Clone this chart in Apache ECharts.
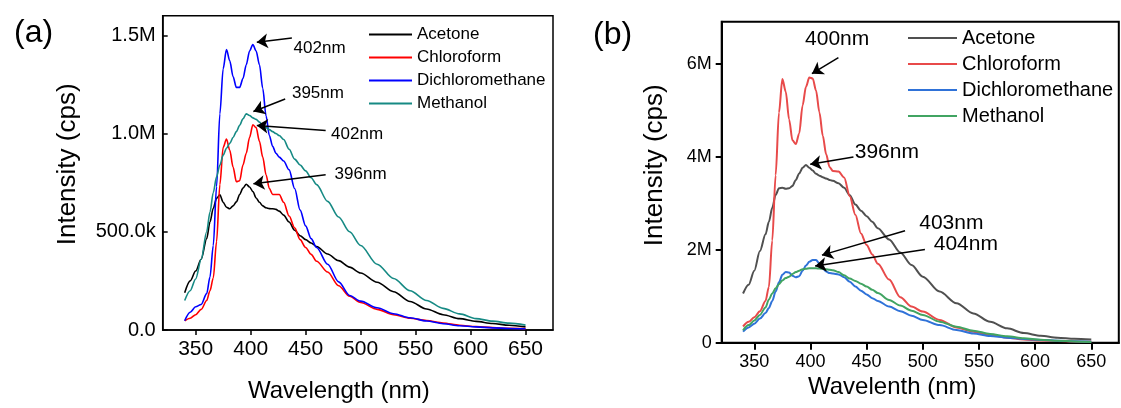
<!DOCTYPE html>
<html>
<head>
<meta charset="utf-8">
<title>Fluorescence spectra in four solvents</title>
<script src="https://cdn.jsdelivr.net/npm/echarts@6/dist/echarts.min.js"></script>
<style>
  html, body { margin: 0; padding: 0; background: #fff; }
  #chart { width: 1121px; height: 408px; }
</style>
</head>
<body>
<div id="chart"></div>
<script>
// ---- Panel (a): emission intensity, in millions of cps ----
const wlA = [340, 345, 350, 355, 360, 363, 366, 369, 372, 375, 378, 381, 384, 387, 390, 393, 396, 399,
  402, 405, 408, 411, 414, 417, 420, 423, 426, 430, 435, 440, 445, 450, 455, 460, 470, 480, 490, 500,
  515, 530, 545, 560, 575, 590, 605, 620, 635, 650];
const acetoneA = [0.19, 0.25, 0.30, 0.36, 0.465, 0.55, 0.62, 0.67, 0.688, 0.65, 0.625, 0.617, 0.632, 0.652, 0.69, 0.722, 0.742, 0.728,
  0.705, 0.672, 0.65, 0.632, 0.622, 0.618, 0.617, 0.614, 0.605, 0.585, 0.55, 0.508, 0.48, 0.46, 0.443, 0.425, 0.387, 0.353, 0.32, 0.29,
  0.243, 0.195, 0.145, 0.107, 0.078, 0.058, 0.044, 0.033, 0.024, 0.016];
const chloroformA = [0.047, 0.06, 0.078, 0.105, 0.15, 0.2, 0.265, 0.45, 0.74, 0.93, 0.972, 0.915, 0.83, 0.755, 0.76, 0.84, 0.9, 0.98,
  1.045, 1.03, 0.96, 0.88, 0.79, 0.72, 0.69, 0.69, 0.69, 0.65, 0.58, 0.52, 0.46, 0.42, 0.385, 0.35, 0.295, 0.225, 0.172, 0.14,
  0.105, 0.078, 0.06, 0.048, 0.036, 0.024, 0.017, 0.012, 0.009, 0.007];
const dichloromethaneA = [0.047, 0.09, 0.118, 0.13, 0.185, 0.27, 0.43, 0.73, 1.1, 1.33, 1.428, 1.37, 1.29, 1.235, 1.235, 1.28, 1.35, 1.42,
  1.453, 1.42, 1.35, 1.23, 1.09, 0.99, 0.935, 0.9, 0.88, 0.86, 0.815, 0.72, 0.61, 0.53, 0.465, 0.42, 0.335, 0.245, 0.176, 0.147,
  0.113, 0.083, 0.062, 0.046, 0.032, 0.022, 0.016, 0.011, 0.008, 0.006];
const methanolA = [0.15, 0.2, 0.26, 0.36, 0.5, 0.6, 0.7, 0.78, 0.84, 0.89, 0.925, 0.95, 0.98, 1.01, 1.042, 1.075, 1.1, 1.092,
  1.08, 1.072, 1.058, 1.042, 1.03, 1.02, 1.01, 1.0, 0.99, 0.97, 0.92, 0.87, 0.84, 0.81, 0.775, 0.74, 0.655, 0.575, 0.50, 0.43,
  0.335, 0.262, 0.2, 0.15, 0.11, 0.082, 0.058, 0.045, 0.035, 0.025];

// ---- Panel (b): emission intensity, in millions of cps ----
const wlB = [340, 345, 350, 355, 360, 363, 366, 369, 372, 375, 378, 381, 384, 387, 390, 393, 396, 399,
  402, 405, 408, 411, 414, 417, 420, 425, 430, 435, 440, 445, 450, 455, 460, 470, 480, 490, 500,
  515, 530, 545, 560, 575, 590, 605, 620, 635, 650];
const acetoneB = [1.06, 1.25, 1.55, 1.97, 2.33, 2.6, 2.9, 3.18, 3.32, 3.33, 3.31, 3.32, 3.37, 3.5, 3.64, 3.76, 3.82, 3.76,
  3.7, 3.63, 3.59, 3.56, 3.53, 3.5, 3.48, 3.43, 3.33, 3.17, 2.97, 2.84, 2.72, 2.6, 2.46, 2.22, 1.94, 1.67, 1.42,
  1.1, 0.85, 0.63, 0.45, 0.31, 0.21, 0.15, 0.11, 0.085, 0.07];
const chloroformB = [0.35, 0.45, 0.55, 0.68, 0.9, 1.2, 2.2, 3.6, 4.95, 5.67, 5.4, 4.8, 4.35, 4.27, 4.5, 5.1, 5.5, 5.7,
  5.68, 5.42, 4.95, 4.45, 4.05, 3.78, 3.69, 3.68, 3.55, 3.15, 2.75, 2.35, 2.1, 1.9, 1.7, 1.36, 0.98, 0.78, 0.67,
  0.49, 0.33, 0.24, 0.167, 0.11, 0.072, 0.05, 0.038, 0.03, 0.024];
const dichloromethaneB = [0.24, 0.33, 0.41, 0.52, 0.64, 0.75, 0.9, 1.1, 1.3, 1.46, 1.52, 1.51, 1.44, 1.41, 1.43, 1.55, 1.66, 1.74,
  1.78, 1.78, 1.7, 1.6, 1.53, 1.5, 1.49, 1.47, 1.41, 1.31, 1.21, 1.12, 1.04, 0.96, 0.9, 0.78, 0.68, 0.58, 0.49,
  0.38, 0.275, 0.2, 0.146, 0.11, 0.08, 0.06, 0.045, 0.032, 0.022];
const methanolB = [0.27, 0.38, 0.48, 0.6, 0.76, 0.93, 1.06, 1.17, 1.26, 1.34, 1.39, 1.42, 1.48, 1.52, 1.55, 1.58, 1.59, 1.6,
  1.6, 1.6, 1.595, 1.59, 1.58, 1.57, 1.56, 1.52, 1.45, 1.38, 1.33, 1.27, 1.21, 1.14, 1.07, 0.92, 0.8, 0.69, 0.6,
  0.455, 0.345, 0.26, 0.19, 0.14, 0.096, 0.068, 0.046, 0.03, 0.018];

// ---- Axis ticks ----
const xTicks = [350, 400, 450, 500, 550, 600, 650];
const yTicksA = [0, 0.5, 1.0, 1.5];
const yTicksB = [0, 2, 4, 6];

// ---- Legend names ----
const solvents = ['Acetone', 'Chloroform', 'Dichloromethane', 'Methanol'];

// ---- Peak annotations: arrow [tail nm, tail M, tip nm, tip M], label [nm, M, text] ----
const arrowsA = [[437.5, 1.487, 405.6, 1.465], [431.4, 1.176, 402.5, 1.112], [468.2, 1.016, 405.6, 1.041], [468.2, 0.790, 402.5, 0.744]];
const labelsA = [[462.7, 1.433, '402nm'], [461.2, 1.206, '395nm'], [496.8, 0.994, '402nm'], [500.0, 0.793, '396nm']];
const arrowsB = [[424.9, 6.127, 401.3, 5.783], [438.3, 3.994, 399.8, 3.837], [484.2, 2.406, 410.2, 1.884], [501.9, 2.006, 404.2, 1.648]];
const labelsB = [[423.8, 6.519, '400nm'], [468.0, 4.101, '396nm'], [525.4, 2.575, '403nm'], [538.3, 2.120, '404nm']];

const colorsA = ['#000000', '#ff0000', '#0000ff', '#168a84'];
const colorsB = ['#505050', '#e84a4a', '#2f72d8', '#41a462'];

const FONT = '"Liberation Sans", Arial, Helvetica, sans-serif';

const pairs = (xs, ys) => xs.map((x, i) => [x, ys[i]]);

function fmtA(v) {
  if (v === 0) return '0.0';
  if (v < 1) return (v * 1000).toFixed(1) + 'k';
  return v.toFixed(1) + 'M';
}
function fmtB(v) {
  return v === 0 ? '0' : v + 'M';
}

function spectrumSeries(name, xs, ys, color, width, idx) {
  return {
    name: name,
    type: 'line',
    xAxisIndex: idx,
    yAxisIndex: idx,
    data: pairs(xs, ys),
    showSymbol: false,
    smooth: 0.3,
    smoothMonotone: 'x',
    lineStyle: { color: color, width: width },
    itemStyle: { color: color },
    silent: true,
    animation: false
  };
}

function annotationSeries(idx, arrows, labels, fontSize) {
  return [{
    type: 'line',
    xAxisIndex: idx,
    yAxisIndex: idx,
    data: [],
    silent: true,
    animation: false,
    markLine: {
      silent: true,
      animation: false,
      symbol: ['none', 'arrow'],
      symbolSize: 11,
      label: { show: false },
      lineStyle: { color: '#000', width: 1.5, type: 'solid' },
      itemStyle: { color: '#000' },
      data: arrows.map(a => [{ coord: [a[0], a[1]] }, { coord: [a[2], a[3]] }])
    }
  }, {
    type: 'scatter',
    xAxisIndex: idx,
    yAxisIndex: idx,
    symbolSize: 0,
    silent: true,
    animation: false,
    itemStyle: { opacity: 1, color: '#000' },
    data: labels.map(l => ({ value: [l[0], l[1]], name: l[2] })),
    label: {
      show: true,
      position: 'inside',
      formatter: '{b}',
      color: '#000',
      opacity: 1,
      fontFamily: FONT,
      fontSize: fontSize
    }
  }];
}

const chart = echarts.init(document.getElementById('chart'), null, { renderer: 'canvas' });

const option = {
  backgroundColor: '#fff',
  animation: false,
  title: [
    { text: '(a)', left: 9, top: 12, textStyle: { fontFamily: FONT, fontSize: 32, fontWeight: 'normal', color: '#000' } },
    { text: '(b)', left: 588, top: 14, textStyle: { fontFamily: FONT, fontSize: 32, fontWeight: 'normal', color: '#000' } }
  ],
  legend: [
    {
      orient: 'vertical', left: 364, top: 18, itemWidth: 43, itemHeight: 2, itemGap: 0, icon: 'rect',
      selectedMode: false,
      textStyle: { fontFamily: FONT, fontSize: 17, color: '#000', lineHeight: 23 },
      data: solvents.map((n, i) => ({ name: n, itemStyle: { color: colorsA[i] } }))
    },
    {
      orient: 'vertical', left: 903, top: 20, itemWidth: 49, itemHeight: 2, itemGap: 0, icon: 'rect',
      selectedMode: false,
      textStyle: { fontFamily: FONT, fontSize: 20, color: '#000', lineHeight: 26 },
      data: solvents.map((n, i) => ({ name: n, itemStyle: { color: colorsB[i] } }))
    }
  ],
  grid: [
    { left: 162.7, top: 15.7, width: 390.3, height: 317.6, show: true, borderColor: '#000', borderWidth: 1.5, backgroundColor: 'transparent' },
    { left: 721.7, top: 21.7, width: 397.1, height: 321.1, show: true, borderColor: '#000', borderWidth: 2, backgroundColor: 'transparent' }
  ],
  xAxis: [
    {
      gridIndex: 0, type: 'value', min: 320, max: 675,
      name: 'Wavelength (nm)', nameLocation: 'middle', nameGap: 49,
      nameTextStyle: { fontFamily: FONT, fontSize: 24, color: '#000', padding: [0, 38, 0, 0] },
      axisLine: { show: true, onZero: false, lineStyle: { color: '#000', width: 1.5 } },
      axisTick: { show: true, inside: false, length: 5, customValues: xTicks, lineStyle: { color: '#000', width: 1.5 } },
      axisLabel: { show: true, customValues: xTicks, margin: 9, fontFamily: FONT, fontSize: 21, color: '#000' },
      splitLine: { show: false }
    },
    {
      gridIndex: 1, type: 'value', min: 321, max: 674.5,
      name: 'Wavelenth (nm)', nameLocation: 'middle', nameGap: 33,
      nameTextStyle: { fontFamily: FONT, fontSize: 24, color: '#000', padding: [0, 56, 0, 0] },
      axisLine: { show: true, onZero: false, lineStyle: { color: '#000', width: 2 } },
      axisTick: { show: true, inside: false, length: 7, customValues: xTicks, lineStyle: { color: '#000', width: 2 } },
      axisLabel: { show: true, customValues: xTicks, margin: 10, fontFamily: FONT, fontSize: 18, color: '#000' },
      splitLine: { show: false }
    }
  ],
  yAxis: [
    {
      gridIndex: 0, type: 'value', min: 0, max: 1.6,
      name: 'Intensity (cps)', nameLocation: 'middle', nameGap: 82, nameRotate: 90,
      nameTextStyle: { fontFamily: FONT, fontSize: 26, color: '#000', padding: [0, 0, 0, 17] },
      axisLine: { show: true, onZero: false, lineStyle: { color: '#000', width: 1.5 } },
      axisTick: { show: true, inside: true, length: 5, customValues: yTicksA, lineStyle: { color: '#000', width: 1.5 } },
      axisLabel: { show: true, customValues: yTicksA, margin: 7, formatter: fmtA, fontFamily: FONT, fontSize: 20, color: '#000' },
      splitLine: { show: false }
    },
    {
      gridIndex: 1, type: 'value', min: 0, max: 6.9,
      name: 'Intensity (cps)', nameLocation: 'middle', nameGap: 54, nameRotate: 90,
      nameTextStyle: { fontFamily: FONT, fontSize: 26, color: '#000', padding: [0, 0, 0, 34] },
      axisLine: { show: true, onZero: false, lineStyle: { color: '#000', width: 2 } },
      axisTick: { show: true, inside: false, length: 6, customValues: yTicksB, lineStyle: { color: '#000', width: 2 } },
      axisLabel: { show: true, customValues: yTicksB, margin: 10, formatter: fmtB, fontFamily: FONT, fontSize: 18, color: '#000' },
      splitLine: { show: false }
    }
  ],
  series: [
    spectrumSeries('Acetone', wlA, acetoneA, colorsA[0], 1.6, 0),
    spectrumSeries('Chloroform', wlA, chloroformA, colorsA[1], 1.6, 0),
    spectrumSeries('Dichloromethane', wlA, dichloromethaneA, colorsA[2], 1.6, 0),
    spectrumSeries('Methanol', wlA, methanolA, colorsA[3], 1.6, 0),
    spectrumSeries('Acetone', wlB, acetoneB, colorsB[0], 2, 1),
    spectrumSeries('Chloroform', wlB, chloroformB, colorsB[1], 2, 1),
    spectrumSeries('Dichloromethane', wlB, dichloromethaneB, colorsB[2], 2, 1),
    spectrumSeries('Methanol', wlB, methanolB, colorsB[3], 2, 1),
    ...annotationSeries(0, arrowsA, labelsA, 17),
    ...annotationSeries(1, arrowsB, labelsB, 21)
  ]
};

chart.setOption(option);
</script>
</body>
</html>
